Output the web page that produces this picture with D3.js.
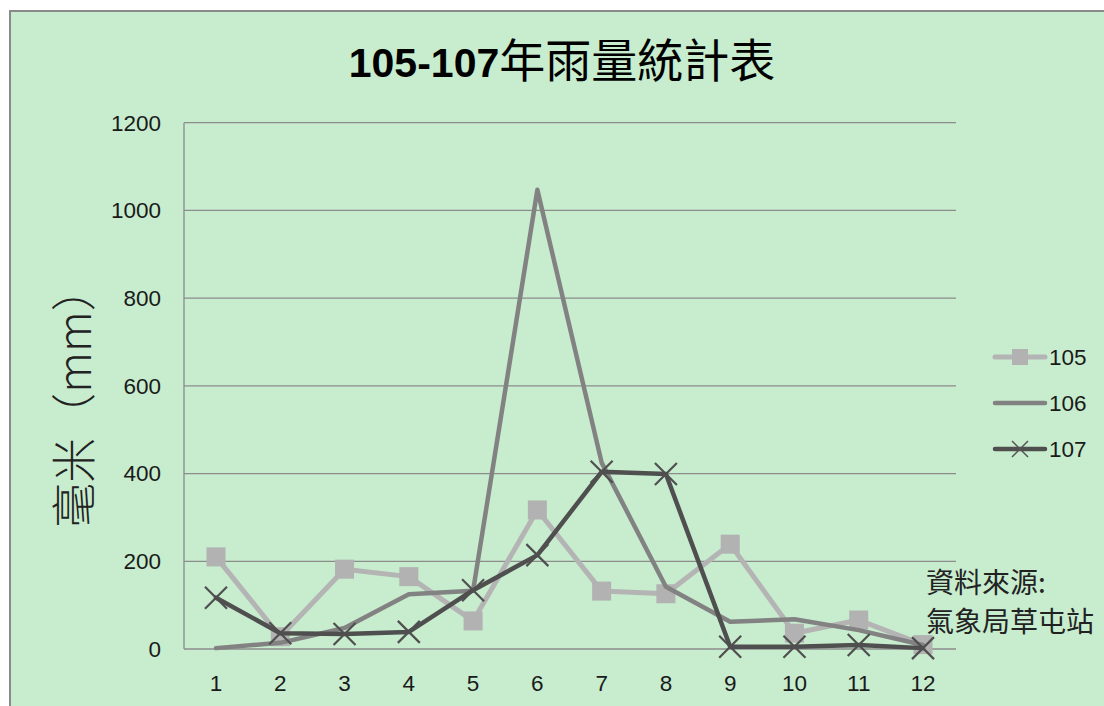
<!DOCTYPE html>
<html><head><meta charset="utf-8">
<script src="https://cdn.jsdelivr.net/npm/d3@7"></script>
<style>body{margin:0;background:#fff;} svg{display:block;}</style>
</head><body>
<svg id="c" width="1104" height="706"></svg>
<script>
const months = ["1","2","3","4","5","6","7","8","9","10","11","12"];
const s105 = [210, 28, 182, 165, 64, 317, 132, 126, 239, 36, 66, 10];
const s106 = [2, 14, 48, 125, 133, 1047, 425, 142, 62, 68, 43, 9];
const s107 = [117, 36, 34, 39, 134, 214, 404, 399, 5, 5, 9, 2];
const yTicks = [0, 200, 400, 600, 800, 1000, 1200];
const seriesNames = ["105", "106", "107"];
const title = "105-107年雨量統計表";
const yLabel = "毫米（mm）";
const note = ["資料來源:", "氣象局草屯站"];

const svg = d3.select("#c");
svg.append("rect").attr("x",10).attr("y",11).attr("width",1100).attr("height",700).attr("fill","#c7ecce");
svg.append("path").attr("d","M10,706 L10,11 L1104,11").attr("fill","none").attr("stroke","#8a8a8a").attr("stroke-width",2);

const x = d3.scalePoint().domain(months).range([216, 923]);
const y = d3.scaleLinear().domain([0,1200]).range([649, 122.7]);
const L = 184, R = 956;

// grid
svg.append("g").selectAll("line").data(yTicks).join("line")
  .attr("x1",L).attr("x2",R).attr("y1",d=>y(d)).attr("y2",d=>y(d))
  .attr("stroke","#8c8c8c").attr("stroke-width",1.3);
svg.append("line").attr("x1",L).attr("x2",L).attr("y1",y(1200)).attr("y2",y(0)).attr("stroke","#8c8c8c").attr("stroke-width",1.3);

const font = "'Liberation Sans','Noto Sans CJK TC',sans-serif";
svg.append("g").selectAll("text").data(yTicks).join("text")
  .attr("x",161).attr("y",d=>y(d)).attr("dy","0.35em").attr("text-anchor","end")
  .attr("font-family",font).attr("font-size",22.5).attr("fill","#1a1a1a").text(d=>d);
svg.append("g").selectAll("text").data(months).join("text")
  .attr("x",d=>x(d)).attr("y",683).attr("dy","0.35em").attr("text-anchor","middle")
  .attr("font-family",font).attr("font-size",22.5).attr("fill","#1a1a1a").text(d=>d);

// title
const t = svg.append("text").attr("x",562).attr("y",77).attr("text-anchor","middle")
  .attr("fill","#000");
t.append("tspan").attr("font-weight","bold").attr("font-size",41).attr("font-family","'Liberation Sans',sans-serif").text(title.slice(0,7));
t.append("tspan").attr("font-family","'Noto Sans CJK TC',sans-serif").attr("font-size",46).attr("font-weight",400).text(title.slice(7));

// y label
svg.append("text").attr("transform","translate(91,397) rotate(-90)").attr("text-anchor","middle")
  .attr("font-family","'Noto Sans CJK TC',sans-serif").attr("font-weight",300).attr("font-size",45).attr("fill","#222").text(yLabel);

// note
svg.append("g").selectAll("text").data(note).join("text")
  .attr("x",926).attr("y",(d,i)=>593+i*39)
  .attr("font-family","'Noto Sans CJK TC',sans-serif").attr("font-size",28).attr("fill","#222").text(d=>d);

const line = d3.line().x((d,i)=>x(months[i])).y(d=>y(d));
const cfg = [
  {data:s105, color:"#b4b4b4", w:5, marker:"square"},
  {data:s106, color:"#828282", w:4.5, marker:"none"},
  {data:s107, color:"#4f4f4f", w:4.5, marker:"x"}
];
function drawMarker(g, type, cx, cy, size, color, sw){
  if(type==="square"){
    g.append("rect").attr("x",cx-size/2).attr("y",cy-size/2).attr("width",size).attr("height",size).attr("fill","#b2b2b2");
  } else if(type==="x"){
    const h=size/2;
    g.append("path").attr("d",`M${cx-h},${cy-h}L${cx+h},${cy+h}M${cx-h},${cy+h}L${cx+h},${cy-h}`)
      .attr("stroke",color).attr("stroke-width",sw).attr("fill","none");
  }
}
cfg.forEach(c=>{
  svg.append("path").datum(c.data).attr("d",line).attr("fill","none").attr("stroke",c.color)
    .attr("stroke-width",c.w).attr("stroke-linejoin","round").attr("stroke-linecap","round");
  const g = svg.append("g");
  c.data.forEach((v,i)=>drawMarker(g,c.marker,x(months[i]),y(v),c.marker==="square"?19:22,c.color,2.2));
});

// legend
cfg.forEach((c,i)=>{
  const ly = 357 + i*46;
  svg.append("line").attr("x1",995).attr("x2",1045).attr("y1",ly).attr("y2",ly).attr("stroke",c.color).attr("stroke-width",c.w).attr("stroke-linecap","round");
  const g = svg.append("g");
  drawMarker(g,c.marker,1020,ly,16,"#555",1.5);
  svg.append("text").attr("x",1049).attr("y",ly).attr("dy","0.35em").attr("font-family",font).attr("font-size",22.5).attr("fill","#1a1a1a").text(seriesNames[i]);
});
</script>
</body></html>
